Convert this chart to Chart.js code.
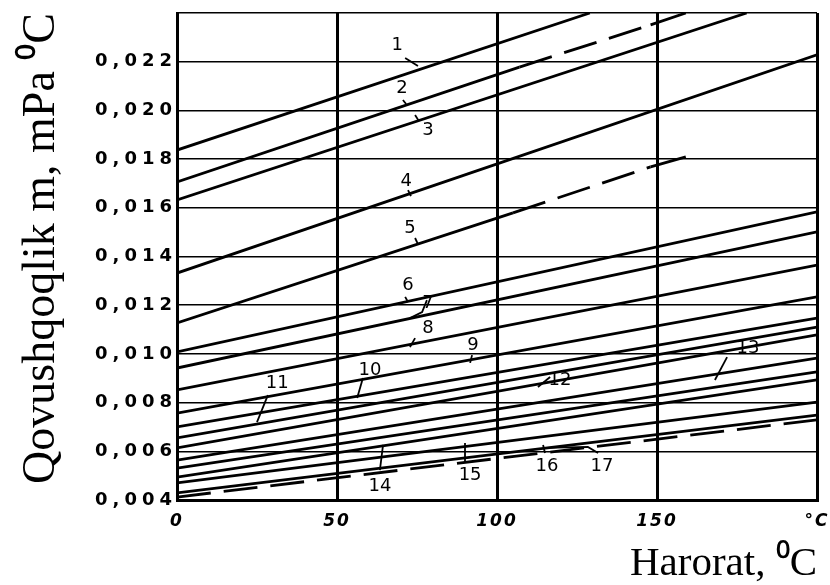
<!DOCTYPE html>
<html><head><meta charset="utf-8">
<script src="https://cdn.jsdelivr.net/npm/chart.js@4.4.1/dist/chart.umd.min.js"></script>
<style>html,body{margin:0;padding:0;background:#fff;}#wrap{width:830px;height:585px;}</style>
</head><body><div id="wrap"><canvas id="c" width="830" height="585"></canvas></div>
<script>
// ---- data: [temperature °C, viscosity] ----
const L1  = [[0, 0.01837], [129, 0.0240]];
const L2  = [[0, 0.01706], [107, 0.02178], [148, 0.02351], [159, 0.0240]];
const L3  = [[0, 0.01632], [178, 0.0240]];
const L4  = [[0, 0.01332], [200, 0.02228]];
const L5  = [[0, 0.01127], [105, 0.01579], [148, 0.01768], [159, 0.01809]];
const L6  = [[0, 0.01008], [200, 0.01583]];
const L7  = [[0, 0.00942], [200, 0.01501]];
const L8  = [[0, 0.00852], [200, 0.01365]];
const L9  = [[0, 0.00757], [200, 0.01234]];
const L10 = [[0, 0.00700], [200, 0.01147]];
const L11 = [[0, 0.00655], [200, 0.01110]];
const L12 = [[0, 0.00614], [200, 0.01078]];
const L13 = [[0, 0.00564], [200, 0.00983]];
const L14 = [[0, 0.00531], [200, 0.00926]];
const L15 = [[0, 0.00494], [200, 0.00893]];
const L16 = [[0, 0.00470], [200, 0.00802]];
const L17 = [[0, 0.00429], [200, 0.00749]];
const L18 = [[0, 0.00412], [200, 0.00729]];
const seriesList = [L1,L2,L3,L4,L5,L6,L7,L8,L9,L10,L11,L12,L13,L14,L15,L16,L17,L18];
// which segments of a series are dashed (series index -> segment indices)
const dashedSegments = {1: [1], 4: [1], 17: [0]};

const curveLabels = ['1','2','3','4','5','6','7','8','9','10','11','12','13','14','15','16','17'];
const curveLabelT = [68.8, 70.3, 78.4, 71.6, 72.8, 72.2, 78.4, 78.4, 92.5, 60.3, 31.3, 119.7, 178.4, 63.4, 91.6, 115.6, 132.8];
const curveLabelV = [0.02269, 0.02092, 0.01920, 0.01710, 0.01517, 0.01283, 0.01209, 0.01106, 0.01037, 0.00934, 0.00880, 0.00893, 0.01024, 0.00457, 0.00503, 0.00540, 0.00540];

const leaders = [
  [[71.3,0.02215],[75.3,0.02182]],
  [[70.6,0.02043],[71.6,0.02026]],
  [[74.4,0.01981],[75.6,0.01956]],
  [[72.2,0.01673],[73.1,0.01648]],
  [[74.4,0.01476],[75.3,0.01451]],
  [[71.3,0.01234],[72.2,0.01213]],
  [[78.1,0.01221],[76.6,0.01172],[72.8,0.01147]],
  [[74.4,0.01065],[72.8,0.01028]],
  [[92.2,0.00995],[91.6,0.00963]],
  [[58.1,0.00901],[56.3,0.00819]],
  [[28.4,0.00831],[25.0,0.00720]],
  [[116.6,0.00905],[112.8,0.00864]],
  [[171.9,0.00987],[168.1,0.00893]],
  [[64.4,0.00626],[63.4,0.00523]],
  [[90.0,0.00634],[90.0,0.00556]],
  [[114.4,0.00626],[115.0,0.00593]],
  [[115.6,0.00614],[128.4,0.00618],[131.6,0.00593]]
];

const xTickValues = [0, 50, 100, 150, 200];
const xTickLabels = ['0', '50', '100', '150', '°C'];
const yTickValues = [0.004, 0.006, 0.008, 0.010, 0.012, 0.014, 0.016, 0.018, 0.020, 0.022, 0.024];
const yTickLabels = ['0,004', '0,006', '0,008', '0,010', '0,012', '0,014', '0,016', '0,018', '0,020', '0,022', ''];
const xTitle = 'Harorat, ⁰C';
const yTitle = 'Qovushqoqlik m, mPa ⁰C';

// ---- build chart ----
const toPts = arr => arr.map(p => ({x: p[0], y: p[1]}));
const datasets = seriesList.map((s, i) => ({
  data: toPts(s),
  showLine: true, borderColor: '#000', borderWidth: 2.8, pointRadius: 0, fill: false, tension: 0,
  segment: { borderDash: ctx => (dashedSegments[i] && dashedSegments[i].includes(ctx.p0DataIndex)) ? [34, 13] : undefined }
}));
leaders.forEach(l => datasets.push({
  data: toPts(l), showLine: true, borderColor: '#000', borderWidth: 1.8, pointRadius: 0, fill: false, tension: 0
}));

function patchLabels(scale, spacing) {
  if (scale._lsPatched) return;
  scale._lsPatched = true;
  const orig = scale.drawLabels;
  scale.drawLabels = function (area) {
    const ctx = this.ctx; const prev = ctx.letterSpacing;
    ctx.letterSpacing = spacing;
    orig.call(this, area);
    ctx.letterSpacing = prev || '0px';
  };
}

const curveLabelPlugin = {
  id: 'curveLabels',
  afterDatasetsDraw(chart) {
    const {ctx, scales: {x, y}} = chart;
    ctx.save();
    ctx.fillStyle = '#000';
    ctx.font = '18px "DejaVu Sans"';
    ctx.textAlign = 'center'; ctx.textBaseline = 'middle';
    curveLabels.forEach((t, i) => {
      ctx.fillText(t, x.getPixelForValue(curveLabelT[i]), y.getPixelForValue(curveLabelV[i]));
    });
    ctx.restore();
  }
};

new Chart(document.getElementById('c'), {
  type: 'scatter',
  data: { datasets },
  plugins: [curveLabelPlugin],
  options: {
    responsive: false, animation: false, devicePixelRatio: 1,
    layout: { padding: { left: 0, right: 13, top: 13, bottom: 0 } },
    plugins: { legend: { display: false }, tooltip: { enabled: false } },
    scales: {
      x: {
        type: 'linear', min: 0, max: 200,
        afterBuildTicks: s => { s.ticks = xTickValues.map(v => ({value: v})); },
        afterFit: s => { s.height = 85; s.paddingRight = 0; s.paddingLeft = 0; patchLabels(s, '2px'); },
        ticks: { callback: (v, i) => xTickLabels[i], color: '#000', padding: 11, maxRotation: 0, autoSkip: false,
                 font: { family: 'DejaVu Sans', size: 17, weight: 'bold', style: 'italic' } },
        grid: { color: '#000', lineWidth: 3, drawTicks: false },
        border: { color: '#000', width: 3 },
        title: { display: true, text: xTitle, align: 'end', color: '#000',
                 font: { family: 'Liberation Serif', size: 41, lineHeight: 1.0 }, padding: { top: 0, bottom: 0 } }
      },
      y: {
        type: 'linear', min: 0.004, max: 0.024,
        afterBuildTicks: s => { s.ticks = yTickValues.map(v => ({value: v})); },
        afterFit: s => { s.width = 177; s.paddingTop = 0; patchLabels(s, '5px'); },
        ticks: { callback: (v, i) => yTickLabels[i], color: '#000', padding: 0, autoSkip: false,
                 font: { family: 'DejaVu Sans', size: 18, weight: 'bold' } },
        grid: { color: '#000', lineWidth: 1.6, drawTicks: false },
        border: { color: '#000', width: 3 },
        title: { display: true, text: yTitle, align: 'end', color: '#000',
                 font: { family: 'Liberation Serif', size: 46 }, padding: { top: 14, bottom: 0 } }
      }
    }
  }
});
</script></body></html>
